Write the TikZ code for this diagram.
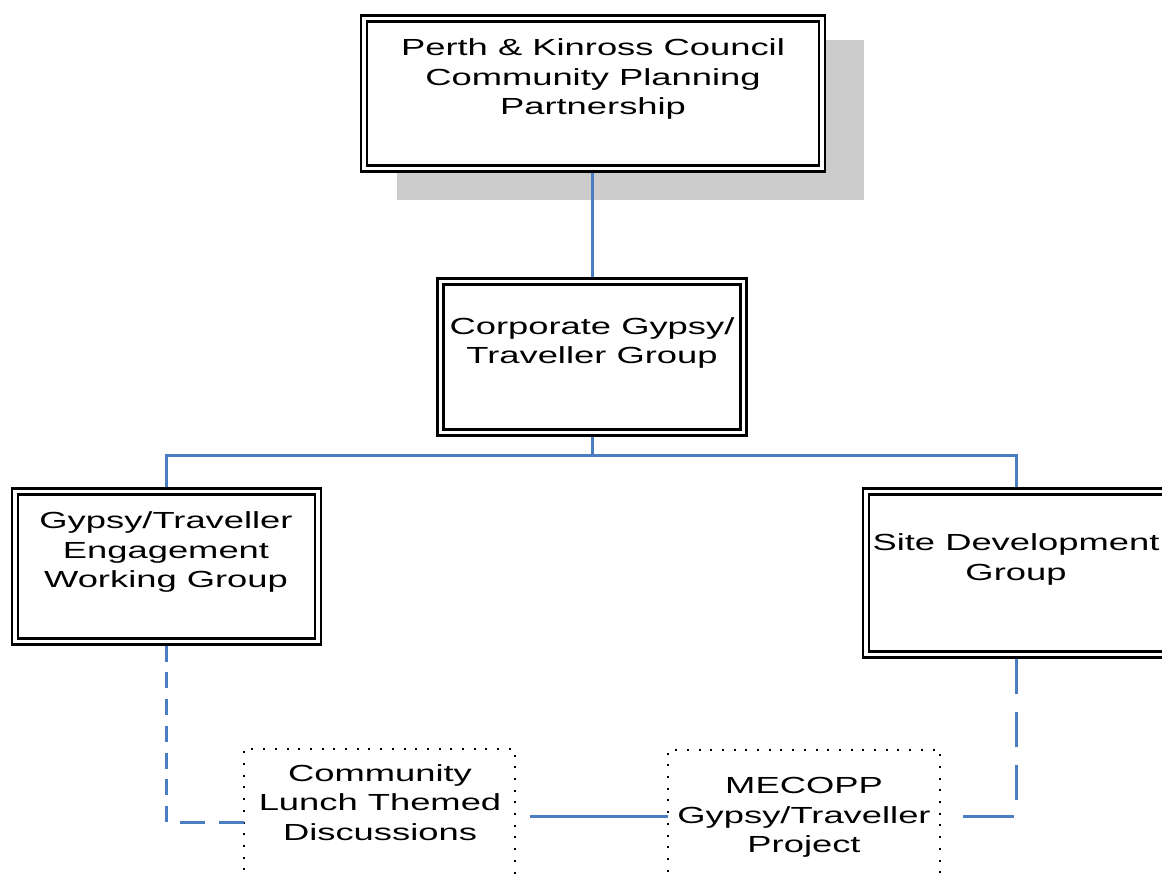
\documentclass[tikz,border=0pt]{standalone}
\usepackage{fontspec}
\setmainfont{Liberation Sans}[FakeStretch=1.56]
\usetikzlibrary{calc}
\definecolor{connblue}{RGB}{74,126,193}
\definecolor{shadowgray}{RGB}{204,204,204}
\begin{document}
\begin{tikzpicture}[x=1pt,y=-1pt,
  boxd/.style={draw=black, double=white, double distance=3.5pt, line width=2.5pt,
    fill=white, outer sep=4.25pt, inner sep=0pt},
  dotbox/.style={draw=black, line width=2pt, dash pattern=on 2pt off 9.7pt,
    inner sep=0pt, outer sep=0pt},
  lbl/.style={align=center, inner sep=0pt, font=\fontsize{23.3}{29.5}\selectfont},
  conn/.style={draw=connblue, line width=3pt}]
\useasboundingbox (0,0) rectangle (1162,879);
% shadow
\fill[shadowgray] (397,40) rectangle (864,200);
% boxes
\node[boxd, minimum width=458pt, minimum height=150pt] (top) at (593,93.5) {};
\node[boxd, minimum width=303pt, minimum height=151pt] (corp) at (592,357) {};
\node[boxd, minimum width=303pt, minimum height=150pt] (left) at (166.5,566.5) {};
\node[boxd, minimum width=301pt, minimum height=163pt] (right) at (1016.5,573) {};
\node[dotbox, minimum width=271pt, minimum height=146pt] (comm) at (379.5,822) {};
\node[dotbox, minimum width=272pt, minimum height=132pt] (mec) at (804,816) {};
% texts
\node[lbl] (ttop) at (593,79.3) {Perth \& Kinross Council\\Community Planning\\Partnership};
\node[lbl] (tcorp) at (592,342.8) {Corporate Gypsy/\\Traveller Group};
\node[lbl] (tleft) at (166,552.3) {Gypsy/Traveller\\Engagement\\Working Group};
\node[lbl] (tright) at (1016,559.3) {Site Development\\Group};
\node[lbl] (tcomm) at (380,802.3) {Community\\Lunch Themed\\Discussions};
\node[lbl] (tmec) at (804,817.3) {MECOPP\\Gypsy/Traveller\\Project};
% connectors
\coordinate (bus) at (592,455);
\coordinate (cm) at (530,816);
\coordinate (rm) at (963,816);
\draw[conn] (top.south -| corp.north) -- (corp.north);
\draw[conn] (corp.south) -- (bus);
\draw[conn] (left.north) |- (bus) -| (right.north);
\draw[conn] (cm) -- (mec.west);
\draw[conn, dash pattern=on 16pt off 10.7pt on 16pt off 10.7pt on 16pt off 10.7pt on 16pt off 10.7pt on 16pt off 10.7pt on 16pt off 10.7pt on 16pt off 14pt on 25pt off 14pt on 26pt off 10pt]
  (left.south) |- (comm.west);
\draw[conn, dash pattern=on 35pt off 18pt on 35pt off 18pt on 35pt off 19pt on 52pt off 20pt]
  (right.south) |- (rm);
\end{tikzpicture}
\end{document}
